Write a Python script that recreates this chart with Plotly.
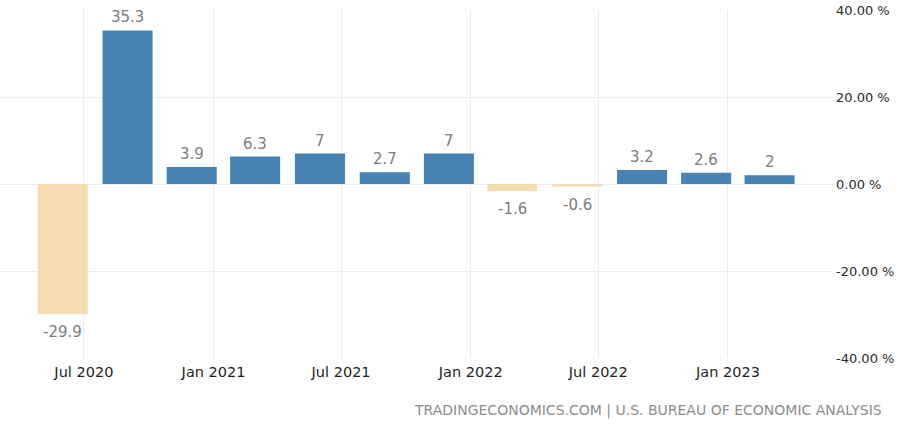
import plotly.graph_objects as go

dates = ["2020-06-01", "2020-09-01", "2020-12-01", "2021-03-01", "2021-06-01", "2021-09-01",
         "2021-12-01", "2022-03-01", "2022-06-01", "2022-09-01", "2022-12-01", "2023-03-01"]
values = [-29.9, 35.3, 3.9, 6.3, 7, 2.7, 7, -1.6, -0.6, 3.2, 2.6, 2]
labels = ["-29.9", "35.3", "3.9", "6.3", "7", "2.7", "7", "-1.6", "-0.6", "3.2", "2.6", "2"]
y_ticks = [-40, -20, 0, 20, 40]
y_ticktext = ["-40.00 %", "-20.00 %", "0.00 %", "20.00 %", "40.00 %"]

POS = "#4682B4"
NEG = "#F3DCB0"
colors = [POS if v >= 0 else NEG for v in values]

DAY_MS = 86400000
FONT = "DejaVu Sans"

fig = go.Figure()
fig.add_trace(go.Bar(
    x=dates, y=values, marker=dict(color=colors, line=dict(width=0)),
    width=[71 * DAY_MS] * len(values), hoverinfo="skip",
))

for d, v, t in zip(dates, values, labels):
    fig.add_annotation(
        x=d, y=v, text=t, showarrow=False,
        yanchor="bottom" if v >= 0 else "top",
        yshift=2 if v >= 0 else -7,
        font=dict(family=FONT, size=15, color="#7c7c7c"),
    )

fig.add_annotation(
    xref="paper", yref="paper", x=1.061, y=-0.152, xanchor="right", yanchor="middle",
    text="TRADINGECONOMICS.COM | U.S. BUREAU OF ECONOMIC ANALYSIS", showarrow=False,
    font=dict(family=FONT, size=14, color="#8c8c8c"),
)

fig.update_layout(
    width=900, height=424,
    margin=dict(l=0, r=67, t=10, b=66, autoexpand=False),
    paper_bgcolor="white", plot_bgcolor="white",
    showlegend=False,
    font=dict(family=FONT, size=13, color="#222"),
)
fig.update_xaxes(
    type="date", range=["2020-03-04", "2023-05-30"],
    tick0="2020-01-01", dtick="M6", tickformat="%b %Y",
    showgrid=True, gridcolor="#ebebeb", gridwidth=1, automargin=False,
    showline=False, zeroline=False, ticks="", ticklabelstandoff=3,
    tickfont=dict(family=FONT, size=14.5, color="#1e1e1e"),
)
fig.update_yaxes(
    range=[-40, 40], tickvals=y_ticks, ticktext=y_ticktext,
    side="right", showgrid=True, gridcolor="#ebebeb", gridwidth=1, automargin=False,
    zeroline=True, zerolinecolor="#ebebeb", zerolinewidth=1, showline=False, ticks="",
    ticklabelstandoff=2,
    tickfont=dict(family=FONT, size=13, color="#2a2a2a"),
)

fig.write_html("out.html", config={"displayModeBar": False},
               post_script="document.body.style.margin='0';document.body.style.padding='0';")
